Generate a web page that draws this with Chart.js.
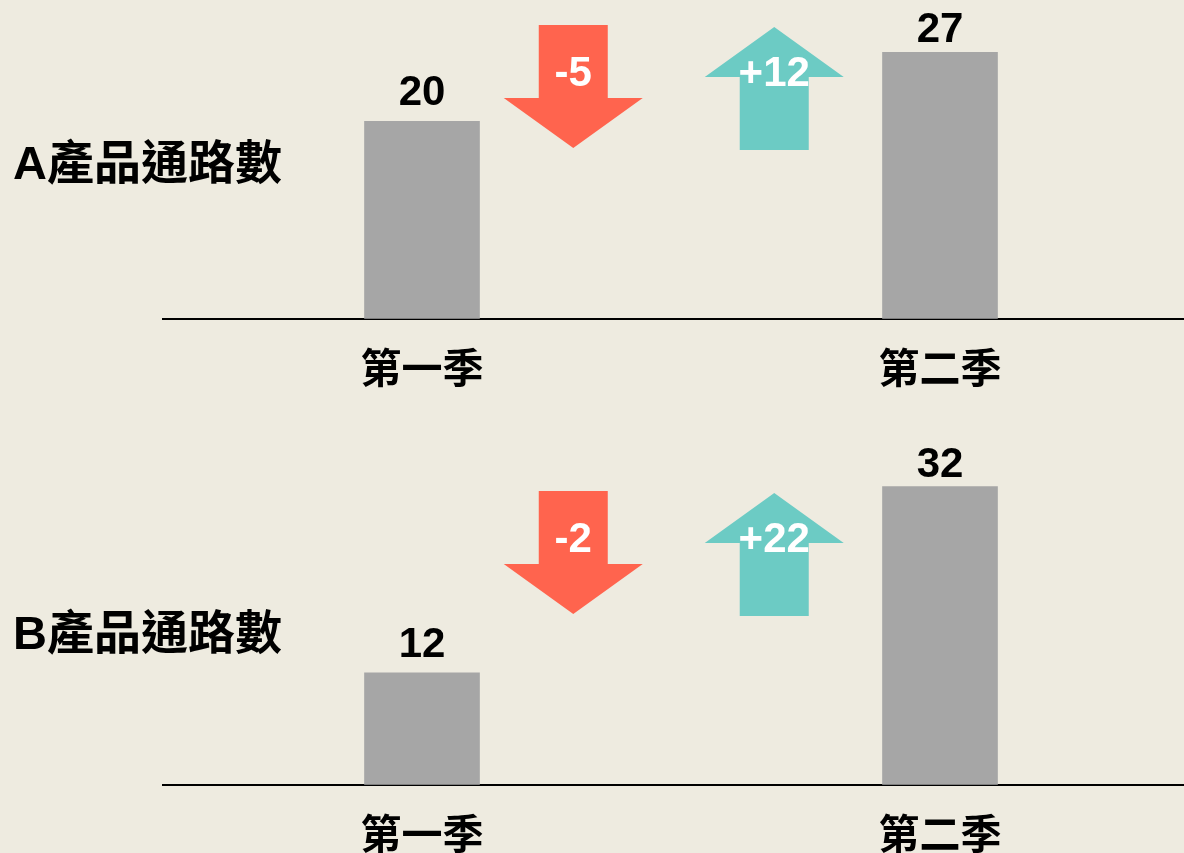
<!DOCTYPE html>
<html>
<head>
<meta charset="utf-8">
<script src="https://cdn.jsdelivr.net/npm/chart.js@4.4.0/dist/chart.umd.min.js"></script>
<style>
  html, body { margin: 0; padding: 0; background: #eeebe0; width: 1184px; height: 853px; overflow: hidden; }
  .panel { position: absolute; left: 0; width: 1199px; }
  #panelA { top: 0; height: 466px; }
  #panelB { top: 426px; height: 506px; }
</style>
</head>
<body>
<div class="panel" id="panelA"><canvas id="chartA"></canvas></div>
<div class="panel" id="panelB"><canvas id="chartB"></canvas></div>
<script>
// 資料
const quarters = ['第一季', '第二季'];
const channelsA = [20, 27];
const channelsB = [12, 32];
// 季間變化：減少、新增
const changesA = [-5, 12];
const changesB = [-2, 22];

const cjkFont = '"Liberation Sans", "Noto Sans CJK TC", sans-serif';

// 箭頭
function drawArrow(ctx, cx, top, down, color) {
  const len = 123, head = 50, headW = 139, shaftW = 69;
  ctx.fillStyle = color;
  ctx.beginPath();
  if (down) {
    ctx.moveTo(cx - shaftW / 2, top);
    ctx.lineTo(cx + shaftW / 2, top);
    ctx.lineTo(cx + shaftW / 2, top + len - head);
    ctx.lineTo(cx + headW / 2, top + len - head);
    ctx.lineTo(cx, top + len);
    ctx.lineTo(cx - headW / 2, top + len - head);
    ctx.lineTo(cx - shaftW / 2, top + len - head);
  } else {
    ctx.moveTo(cx, top);
    ctx.lineTo(cx + headW / 2, top + head);
    ctx.lineTo(cx + shaftW / 2, top + head);
    ctx.lineTo(cx + shaftW / 2, top + len);
    ctx.lineTo(cx - shaftW / 2, top + len);
    ctx.lineTo(cx - shaftW / 2, top + head);
    ctx.lineTo(cx - headW / 2, top + head);
  }
  ctx.closePath();
  ctx.fill();
}

const decorPlugin = {
  id: 'decor',
  afterDatasetsDraw(chart, args, opts) {
    const ctx = chart.ctx;
    const area = chart.chartArea;
    const xScale = chart.scales.x;
    const values = chart.data.datasets[0].data;
    ctx.save();

    // 數值標籤
    ctx.fillStyle = '#000';
    ctx.font = 'bold 42px "Liberation Sans", Arial, sans-serif';
    ctx.textAlign = 'center';
    ctx.textBaseline = 'alphabetic';
    chart.getDatasetMeta(0).data.forEach((bar, i) => {
      ctx.fillText(values[i], bar.x, bar.y - opts.labelGap[i]);
    });

    // 左側標題
    ctx.textAlign = 'left';
    ctx.textBaseline = 'middle';
    ctx.font = 'bold 47px ' + cjkFont;
    ctx.fillText(opts.title, 13, area.top + opts.titleY);

    // 變化箭頭
    opts.changes.forEach((v, i) => {
      const cx = xScale.getPixelForValue(opts.arrowAt[i]);
      const down = v < 0;
      drawArrow(ctx, cx, area.top + (down ? 25 : 27), down, down ? '#ff644e' : '#6ccbc4');
      ctx.fillStyle = '#fff';
      ctx.textAlign = 'center';
      ctx.textBaseline = 'alphabetic';
      ctx.font = 'bold 42px "Liberation Sans", Arial, sans-serif';
      ctx.fillText((v > 0 ? '+' : '') + v, cx, area.top + 86);
    });
    ctx.restore();
  }
};

function makeChart(id, values, yMax, changes, title, titleY, padTop) {
  return new Chart(document.getElementById(id), {
    type: 'bar',
    data: {
      labels: quarters,
      datasets: [{
        data: values,
        backgroundColor: '#a6a6a6',
        borderWidth: 0,
        barThickness: 115
      }]
    },
    options: {
      responsive: true,
      maintainAspectRatio: false,
      animation: false,
      layout: { padding: { left: 163, right: 0, top: padTop, bottom: 42 } },
      plugins: {
        legend: { display: false },
        tooltip: { enabled: false },
        decor: {
          title: title,
          titleY: titleY,
          changes: changes,
          arrowAt: [0.292, 0.68],
          labelGap: [16, 10]
        }
      },
      scales: {
        x: {
          offset: true,
          grid: { display: false, drawTicks: false },
          border: { display: true, color: '#000', width: 2 },
          ticks: {
            color: '#000',
            padding: 28,
            font: { family: cjkFont, size: 41, weight: 'bold' }
          }
        },
        y: { display: false, min: 0, max: yMax }
      }
    },
    plugins: [decorPlugin]
  });
}

makeChart('chartA', channelsA, 32.3, changesA, 'A產品通路數', 166, 0);
makeChart('chartB', channelsB, 34.2, changesB, 'B產品通路數', 170, 40);
</script>
</body>
</html>
